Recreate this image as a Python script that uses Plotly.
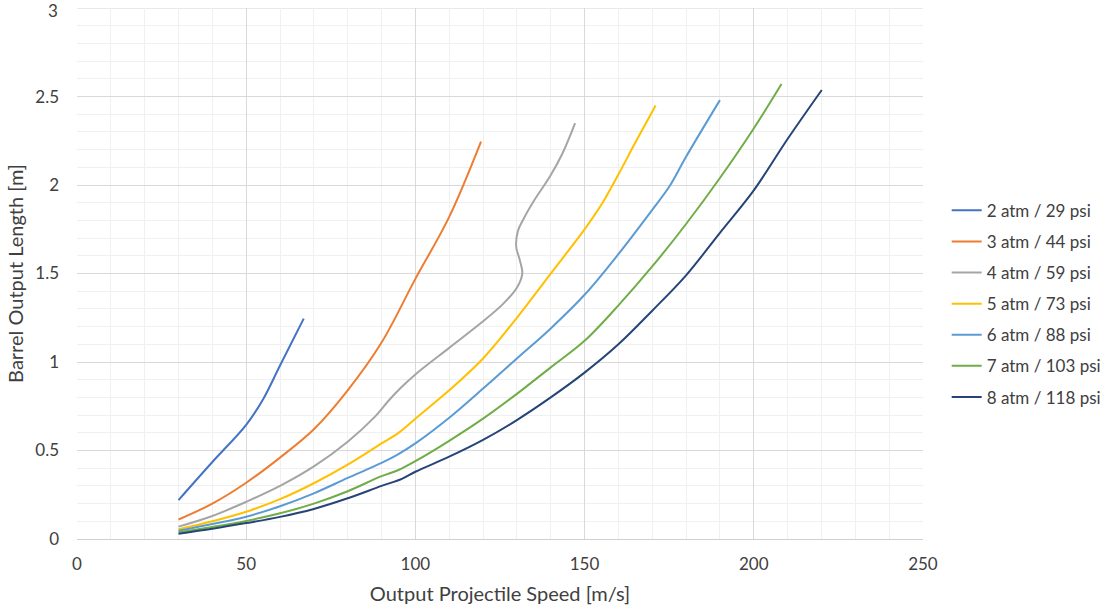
import plotly.graph_objects as go

names = ["2 atm / 29 psi", "3 atm / 44 psi", "4 atm / 59 psi", "5 atm / 73 psi",
         "6 atm / 88 psi", "7 atm / 103 psi", "8 atm / 118 psi"]
colors = ["#4472C4", "#ED7D31", "#A5A5A5", "#FFC000", "#5B9BD5", "#70AD47", "#264478"]

speed_2atm = [30, 40, 50, 55, 60, 67]
length_2atm = [0.22, 0.435, 0.645, 0.79, 0.98, 1.245]

speed_3atm = [30, 40, 50, 60, 70, 80, 90, 100, 110, 119.4]
length_3atm = [0.11, 0.20, 0.318, 0.46, 0.62, 0.84, 1.11, 1.47, 1.82, 2.245]

speed_4atm = [30, 40, 50, 60, 70, 80, 88, 92, 96, 100, 110, 120, 126, 130, 131.6,
              130.8, 129.8, 130.3, 132, 135, 139.8, 143.5, 147.2]
length_4atm = [0.07, 0.13, 0.21, 0.30, 0.41, 0.55, 0.69, 0.78, 0.86, 0.93, 1.08, 1.23, 1.33, 1.42, 1.50,
               1.58, 1.65, 1.74, 1.81, 1.91, 2.05, 2.18, 2.35]

speed_5atm = [30, 40, 50, 60, 70, 80, 90, 95, 100, 110, 120, 130, 140, 150, 155, 160, 165, 171]
length_5atm = [0.055, 0.10, 0.154, 0.225, 0.315, 0.42, 0.54, 0.60, 0.68, 0.84, 1.02, 1.25, 1.50, 1.75,
               1.89, 2.06, 2.24, 2.45]

speed_6atm = [30, 40, 50, 60, 70, 80, 90, 95, 100, 110, 120, 130, 140, 150, 160, 170, 175, 180, 190]
length_6atm = [0.047, 0.085, 0.126, 0.185, 0.258, 0.345, 0.43, 0.48, 0.54, 0.685, 0.85, 1.02, 1.19, 1.38,
               1.61, 1.86, 1.99, 2.16, 2.48]

speed_7atm = [30, 40, 50, 60, 70, 80, 90, 95, 100, 110, 120, 130, 140, 150, 160, 170, 180, 190, 200, 208.2]
length_7atm = [0.038, 0.068, 0.102, 0.145, 0.20, 0.27, 0.355, 0.39, 0.44, 0.555, 0.68, 0.82, 0.97, 1.12,
               1.32, 1.54, 1.78, 2.04, 2.32, 2.571]

speed_8atm = [30, 40, 50, 60, 70, 80, 90, 96, 100, 110, 120, 130, 140, 150, 160, 170, 180, 190, 200, 210, 220.1]
length_8atm = [0.03, 0.058, 0.09, 0.125, 0.17, 0.23, 0.30, 0.34, 0.38, 0.465, 0.56, 0.672, 0.80, 0.94,
               1.10, 1.29, 1.49, 1.73, 1.97, 2.26, 2.537]

speeds = [speed_2atm, speed_3atm, speed_4atm, speed_5atm, speed_6atm, speed_7atm, speed_8atm]
lengths = [length_2atm, length_3atm, length_4atm, length_5atm, length_6atm, length_7atm, length_8atm]

x_ticks = [0, 50, 100, 150, 200, 250]
y_ticks = [0, 0.5, 1, 1.5, 2, 2.5, 3]
Y_MAX = 3

FONT = "Lato, 'Open Sans', sans-serif"
TXT = "#404040"

fig = go.Figure()
for i, (n, c, xs, ys) in enumerate(zip(names, colors, speeds, lengths)):
    fig.add_trace(go.Scatter(x=xs, y=ys, mode="lines", name=n, legendgroup=str(i),
                             line=dict(color=c, width=2, shape="spline", smoothing=1.0)))

fig.update_layout(
    width=1110, height=611,
    margin=dict(l=77, r=187, t=8, b=72, autoexpand=False),
    paper_bgcolor="white", plot_bgcolor="white",
    font=dict(family=FONT, color=TXT),
    legend=dict(x=1.028, y=0.652, xanchor="left", yanchor="top",
                font=dict(size=17, color=TXT, family=FONT),
                tracegroupgap=6, traceorder="grouped", itemwidth=30),
    showlegend=True,
)
fig.update_xaxes(range=[0, 250.02], tickvals=x_ticks, ticktext=[str(v) for v in x_ticks],
                 showgrid=True, gridcolor="#d9d9d9", gridwidth=1, zeroline=False,
                 showline=True, linecolor="#d0d0d0", linewidth=1, mirror=False,
                 minor=dict(dtick=10, tick0=0, showgrid=True, gridcolor="#f0f0f0", gridwidth=1),
                 tickfont=dict(size=17, color=TXT), ticks="", ticklabelstandoff=10,
                 title=dict(text="Output Projectile Speed [m/s]", font=dict(size=20, color=TXT),
                            standoff=13))
fig.update_yaxes(range=[0, 3.0005], tickvals=y_ticks[:-1], ticktext=[f"{v:g}" for v in y_ticks[:-1]],
                 showgrid=True, gridcolor="#d9d9d9", gridwidth=1, zeroline=False,
                 showline=False,
                 minor=dict(dtick=0.1, tick0=0, showgrid=True, gridcolor="#f0f0f0", gridwidth=1),
                 tickfont=dict(size=17, color=TXT), ticks="", ticklabelstandoff=17,
                 title=dict(text="Barrel Output Length [m]", font=dict(size=20, color=TXT),
                            standoff=6))

# top edge gridline and its tick label (Plotly drops the tick that sits exactly on the plot edge)
fig.add_shape(type="line", xref="paper", x0=0, x1=1, yref="y", y0=Y_MAX, y1=Y_MAX,
              line=dict(color="#d9d9d9", width=1), layer="below")
fig.add_annotation(xref="paper", x=0, yref="y", y=Y_MAX, text=f"{Y_MAX:g}", showarrow=False,
                   xanchor="right", yanchor="middle", xshift=-17, yshift=-2,
                   font=dict(size=17, color=TXT, family=FONT))

fig.write_html("out.html")
